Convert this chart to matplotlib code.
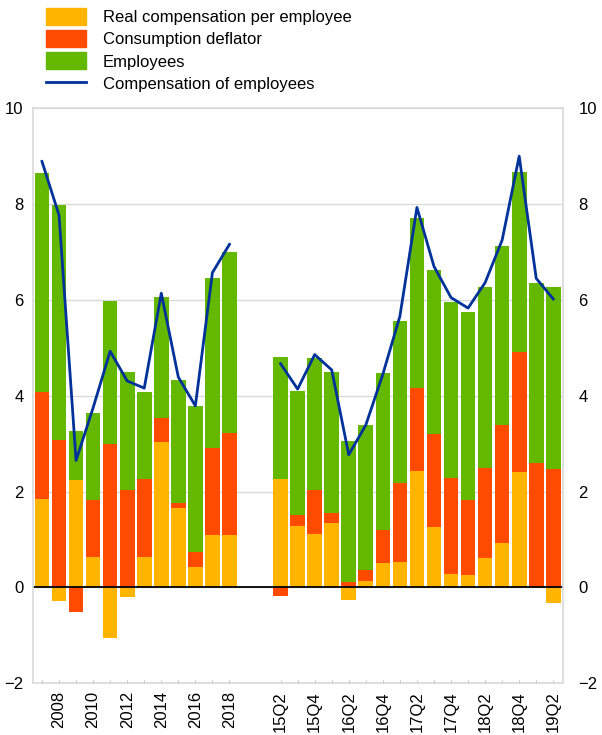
import numpy as np
import matplotlib
matplotlib.use("Agg")
import matplotlib.pyplot as plt
from matplotlib.patches import Patch
from matplotlib.lines import Line2D

plt.rcParams['font.family'] = ['Liberation Sans', 'DejaVu Sans']

# annual data 2007-2018
years = ["2007", "2008", "2009", "2010", "2011", "2012", "2013", "2014", "2015", "2016", "2017", "2018"]
real_comp_y = [1.85, -0.28, 2.24, 0.64, -1.05, -0.20, 0.63, 3.04, 1.65, 0.43, 1.09, 1.09]
deflator_y = [2.23, 3.08, -0.51, 1.19, 3.00, 2.03, 1.63, 0.50, 0.11, 0.31, 1.83, 2.13]
employees_y = [4.56, 4.90, 1.03, 1.82, 2.97, 2.47, 1.82, 2.52, 2.58, 3.04, 3.53, 3.78]
comp_emp_y = [8.89, 7.77, 2.65, 3.75, 4.93, 4.31, 4.16, 6.14, 4.39, 3.79, 6.57, 7.16]

# quarterly data 15Q2-19Q2
quarters = ["15Q2", "15Q3", "15Q4", "16Q1", "16Q2", "16Q3", "16Q4", "17Q1", "17Q2",
            "17Q3", "17Q4", "18Q1", "18Q2", "18Q3", "18Q4", "19Q1", "19Q2"]
real_comp_q = [2.26, 1.29, 1.12, 1.34, -0.26, 0.14, 0.51, 0.53, 2.43,
               1.26, 0.28, 0.26, 0.62, 0.93, 2.40, 0.00, -0.33]
deflator_q = [-0.17, 0.23, 0.91, 0.21, 0.12, 0.23, 0.68, 1.66, 1.73,
              1.94, 2.00, 1.57, 1.87, 2.47, 2.52, 2.59, 2.48]
employees_q = [2.55, 2.58, 2.75, 2.95, 2.94, 3.02, 3.28, 3.38, 3.54,
               3.43, 3.67, 3.92, 3.78, 3.73, 3.75, 3.77, 3.80]
comp_emp_q = [4.67, 4.14, 4.86, 4.54, 2.77, 3.39, 4.45, 5.66, 7.93,
              6.70, 6.05, 5.83, 6.36, 7.25, 9.00, 6.45, 6.02]

c_yel = "#FFB400"
c_red = "#FF4B00"
c_grn = "#65B800"
c_blue = "#003299"
c_grid = "#d9d9d9"

gap = 2
x_y = np.arange(len(years))
x_q = np.arange(len(quarters)) + len(years) + gap


def stack(ax, x, a, b, c, w=0.86):
    a = np.array(a)
    b = np.array(b)
    c = np.array(c)
    pos = np.zeros(len(x))
    neg = np.zeros(len(x))
    for vals, col in [(a, c_yel), (b, c_red), (c, c_grn)]:
        base = np.where(vals >= 0, pos, neg)
        ax.bar(x, vals, w, bottom=base, color=col, zorder=2, linewidth=0)
        pos = pos + np.where(vals >= 0, vals, 0)
        neg = neg + np.where(vals < 0, vals, 0)


fig = plt.figure(figsize=(6.02, 7.35), dpi=100)
ax = fig.add_axes([0.0553, 0.0703, 0.8799, 0.7824])

stack(ax, x_y, real_comp_y, deflator_y, employees_y)
stack(ax, x_q, real_comp_q, deflator_q, employees_q)
ax.plot(x_y, comp_emp_y, color=c_blue, lw=2, zorder=3)
ax.plot(x_q, comp_emp_q, color=c_blue, lw=2, zorder=3)

ax.axhline(0, color="black", lw=1.3, zorder=2.5)
ax.set_ylim(-2, 10)
ax.set_xlim(-0.51, x_q[-1] + 0.57)
ax.set_yticks([-2, 0, 2, 4, 6, 8, 10])
ax.yaxis.grid(True, color=c_grid, lw=1, zorder=0)
ax.set_axisbelow(True)
for s in ax.spines.values():
    s.set_color(c_grid)
    s.set_linewidth(1.2)
ax.tick_params(axis="y", length=0, pad=7, labelsize=12)

xt = list(x_y) + list(x_q)
lab = [y if i % 2 == 1 else "" for i, y in enumerate(years)] + \
      [q if i % 2 == 0 else "" for i, q in enumerate(quarters)]
ax.set_xticks(xt)
ax.set_xticklabels(lab, rotation=90, fontsize=12)
ax.tick_params(axis="x", direction="in", length=2.2, color="#bfbfbf", pad=5.5)

ax2 = ax.twinx()
ax2.set_ylim(-2, 10)
ax2.set_yticks([-2, 0, 2, 4, 6, 8, 10])
ax2.tick_params(axis="y", length=0, pad=11, labelsize=12)
for s in ax2.spines.values():
    s.set_visible(False)

handles = [Patch(color=c_yel), Patch(color=c_red), Patch(color=c_grn),
           Line2D([], [], color=c_blue, lw=2)]
labels = ["Real compensation per employee", "Consumption deflator", "Employees",
          "Compensation of employees"]
fig.legend(handles, labels, loc="upper left", bbox_to_anchor=(46 / 602, 1 - 8 / 735),
           frameon=False, fontsize=12, borderpad=0, borderaxespad=0,
           handlelength=2.4, handleheight=1.2, handletextpad=1.0, labelspacing=0.3)

fig.savefig("out.png", dpi=100)
